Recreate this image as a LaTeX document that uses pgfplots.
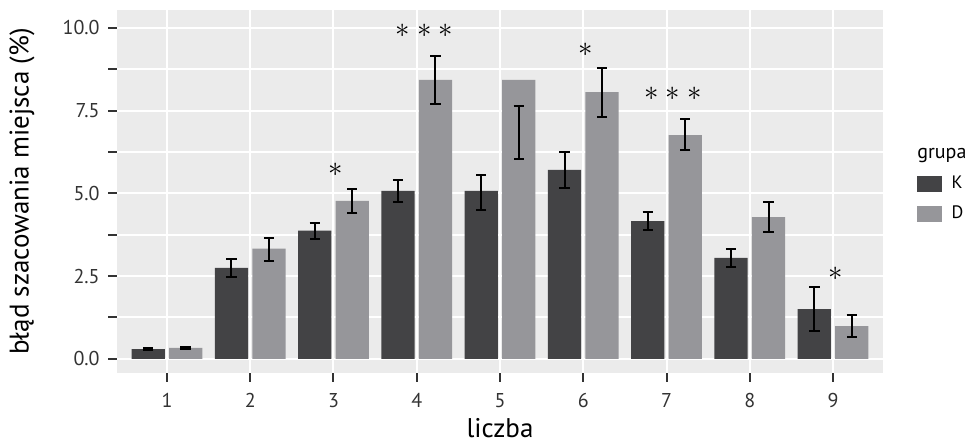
\documentclass[border=0pt]{standalone}
\usepackage{fontspec}
\setmainfont{PT Sans}
\usepackage{pgfplots}
\pgfplotsset{compat=1.18}
\definecolor{panel}{HTML}{EBEBEB}
\definecolor{kcol}{HTML}{434345}
\definecolor{dcol}{HTML}{96969A}
\definecolor{tickcol}{HTML}{333333}

\pgfplotstableread{
x y
0.775 0.29
1.775 2.75
2.775 3.87
3.775 5.07
4.775 5.07
5.775 5.71
6.775 4.16
7.775 3.05
8.775 1.50
}\tabK
\pgfplotstableread{
x y
1.225 0.33
2.225 3.33
3.225 4.77
4.225 8.43
5.225 8.43
6.225 8.06
7.225 6.76
8.225 4.28
9.225 0.99
}\tabD
\pgfplotstableread{
x c h
0.775 0.295 0.035
1.775 2.75 0.27
2.775 3.86 0.25
3.775 5.065 0.335
4.775 5.03 0.53
5.775 5.70 0.55
6.775 4.165 0.265
7.775 3.04 0.27
8.775 1.51 0.66
1.225 0.325 0.035
2.225 3.30 0.35
3.225 4.77 0.35
4.225 8.43 0.72
5.225 6.84 0.81
6.225 8.05 0.75
7.225 6.77 0.47
8.225 4.285 0.465
9.225 1.00 0.33
}\tabErr

\begin{document}
\begin{tikzpicture}
\begin{axis}[
  name=ax,
  scale only axis, width=383pt, height=181.5pt,
  xmin=0.4, xmax=9.6, ymin=-0.43, ymax=10.54,
  axis background/.style={fill=panel},
  axis line style={draw=none},
  xtick={1,2,3,4,5,6,7,8,9},
  ytick={0,2.5,5,7.5,10},
  minor ytick={1.25,3.75,6.25,8.75},
  grid=both,
  major grid style={white, line width=1pt},
  minor grid style={white, line width=1pt},
  tick align=outside,
  xtick pos=left, ytick pos=left,
  major tick length=4.3pt, minor tick length=4.3pt,
  every tick/.style={tickcol, line width=1pt},
  minor tick style={tickcol, line width=1pt},
  major tick style={tickcol, line width=1pt},
  /pgf/number format/assume math mode=true,
  yticklabel style={/pgf/number format/fixed, /pgf/number format/fixed zerofill, /pgf/number format/precision=1,
    font=\fontsize{10}{12}\selectfont, text=tickcol, anchor=east, inner sep=0pt, xshift=-4.2pt},
  xticklabel style={font=\fontsize{10}{12}\selectfont, text=tickcol, anchor=north, inner sep=0pt, yshift=-5.7pt},
  xlabel={liczba},
  ylabel={błąd szacowania miejsca (\%)},
  xlabel style={at={(axis description cs:0.5,-0.153)}, anchor=center, inner sep=0pt, font=\fontsize{13.5}{16}\selectfont},
  ylabel style={at={(axis description cs:-0.124,0.5)}, anchor=center, inner sep=0pt, font=\fontsize{13.5}{16}\selectfont},
  legend style={at={(axis description cs:1.0444,0.5435)}, anchor=north west, draw=none, fill=none,
    inner sep=0pt, outer sep=0pt, row sep=7.15pt, column sep=5pt, font=\fontsize{9}{10}\selectfont,
    nodes={inner sep=0pt}},
  legend image code/.code={\fill[#1] (0pt,-4pt) rectangle (12.35pt,4pt);},
  legend cell align=left,
]
\addplot[ybar, bar width=0.4, bar shift=0pt, fill=kcol, draw=none] table[x=x,y=y] {\tabK};
\addlegendentry{K}
\addplot[ybar, bar width=0.4, bar shift=0pt, fill=dcol, draw=none] table[x=x,y=y] {\tabD};
\addlegendentry{D}
\addplot[forget plot, only marks, mark=*, mark size=0pt, mark options={draw=none, fill=none},
  error bars/.cd, y dir=both, y explicit,
  error bar style={draw=black, line width=1pt},
  error mark options={draw=black, fill=black, line width=1pt, mark size=2.6pt, rotate=90}]
  table[x=x, y=c, y error=h] {\tabErr};
\addplot[forget plot, only marks, mark=*, mark size=0pt, mark options={draw=none, fill=none},
  point meta=explicit symbolic, nodes near coords,
  nodes near coords style={anchor=center, font=\fontsize{14}{14}\selectfont, text=black, inner sep=0pt}]
  coordinates {
  (3.03,5.72) [$\ast$]
  (4.09,9.92) [$\ast$\hspace{3.5pt}$\ast$\hspace{3.5pt}$\ast$]
  (6.03,9.33) [$\ast$]
  (7.08,8.0) [$\ast$\hspace{3.5pt}$\ast$\hspace{3.5pt}$\ast$]
  (9.03,2.58) [$\ast$]
  };
\end{axis}
\node[anchor=base west, font=\fontsize{10}{12}\selectfont, inner sep=0pt] at ([shift={(17pt,-74.15pt)}]ax.north east) {grupa};
\pgfresetboundingbox
\path ([shift={(-58.5pt,-37pt)}]ax.south west) rectangle ([shift={(43.5pt,5pt)}]ax.north east);
\end{tikzpicture}
\end{document}
